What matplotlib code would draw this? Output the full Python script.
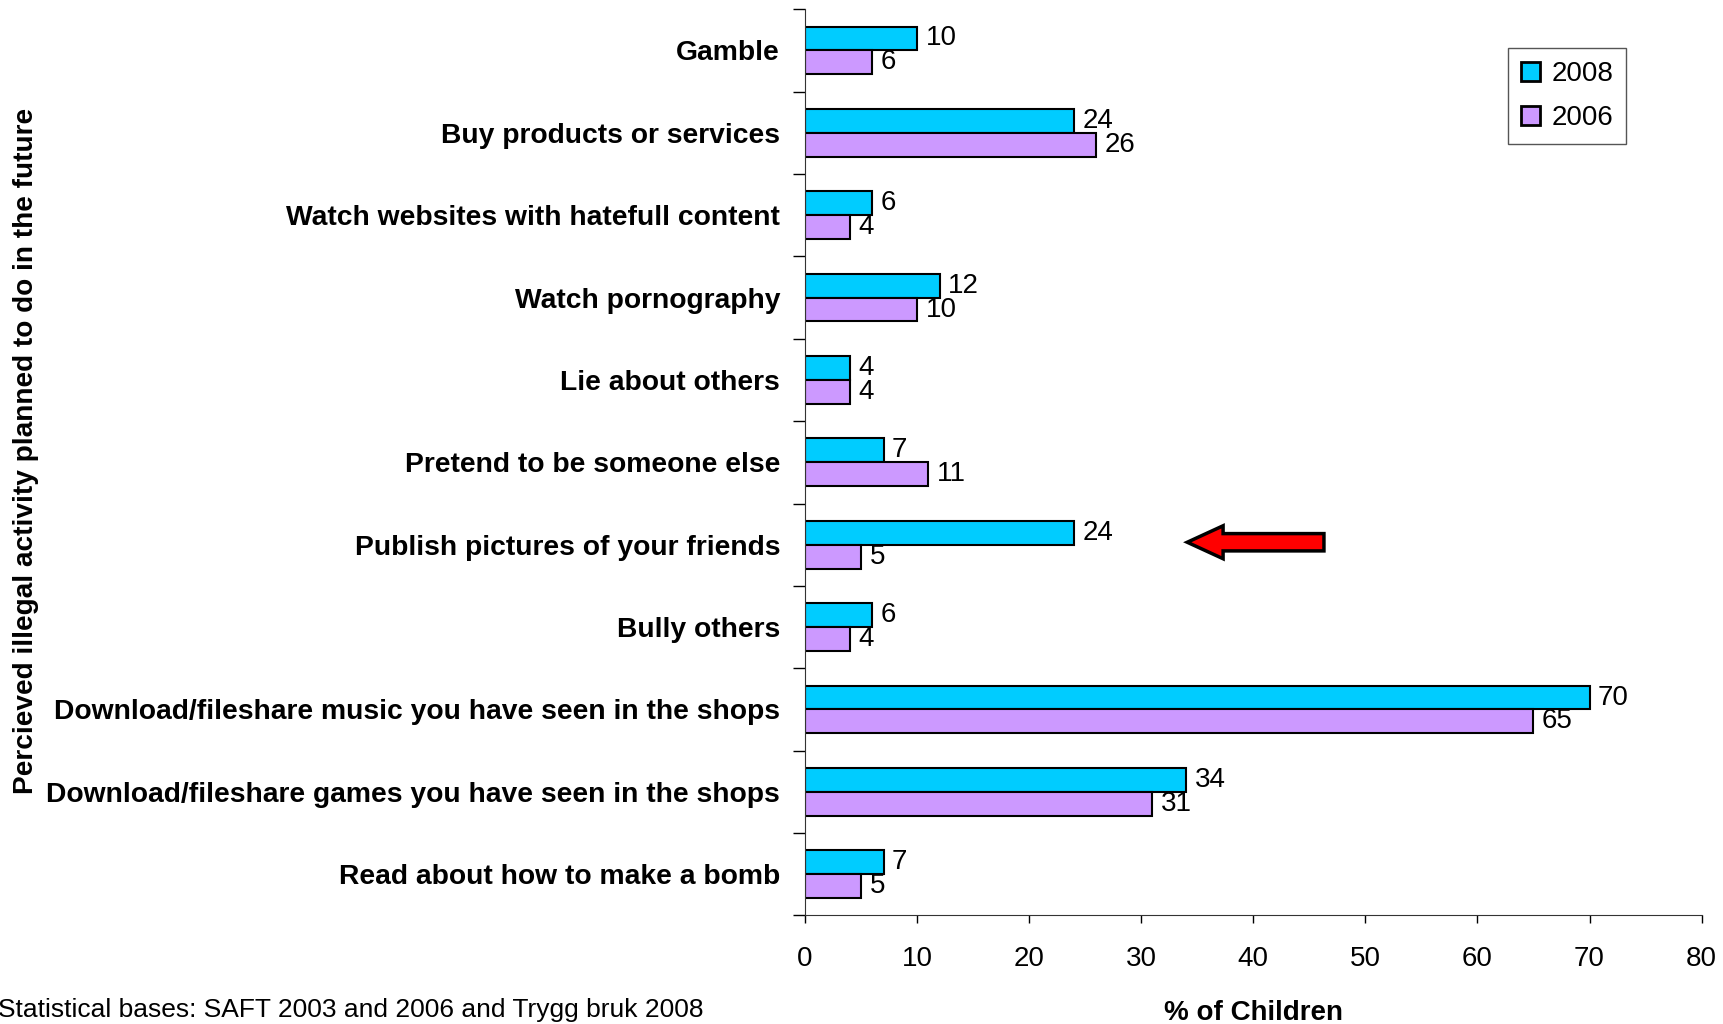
import matplotlib
matplotlib.use('Agg')
import matplotlib.pyplot as plt
import matplotlib.patches as mpatches
import numpy as np

plt.rcParams['font.family'] = ['Liberation Sans', 'DejaVu Sans']

categories = [
    'Gamble',
    'Buy products or services',
    'Watch websites with hatefull content',
    'Watch pornography',
    'Lie about others',
    'Pretend to be someone else',
    'Publish pictures of your friends',
    'Bully others',
    'Download/fileshare music you have seen in the shops',
    'Download/fileshare games you have seen in the shops',
    'Read about how to make a bomb',
]
values_2008 = [10, 24, 6, 12, 4, 7, 24, 6, 70, 34, 7]
values_2006 = [6, 26, 4, 10, 4, 11, 5, 4, 65, 31, 5]
x_ticks = [0, 10, 20, 30, 40, 50, 60, 70, 80]

col_2008 = '#00CCFF'
col_2006 = '#CC99FF'

fig = plt.figure(figsize=(17.24, 10.24), dpi=100)
ax = fig.add_axes([0.467, 0.106, 0.52, 0.885])

y = np.arange(len(categories))
h = 0.29
b1 = ax.barh(y - h / 2, values_2008, height=h, color=col_2008,
             edgecolor='black', linewidth=1.5, label='2008')
b2 = ax.barh(y + h / 2, values_2006, height=h, color=col_2006,
             edgecolor='black', linewidth=1.5, label='2006')

for bars in (b1, b2):
    for bar in bars:
        w = bar.get_width()
        ax.annotate(str(int(w)), (w, bar.get_y() + bar.get_height() / 2),
                    xytext=(6, 0), textcoords='offset points',
                    va='center', ha='left', fontsize=20)

# red arrow pointing at the "Publish pictures" row
arrow = mpatches.FancyArrow(46.3, 5.97, -12.2, 0, width=0.21,
                            head_width=0.4, head_length=3.2,
                            length_includes_head=True,
                            facecolor='#FF0000', edgecolor='black',
                            linewidth=2.5)
ax.add_patch(arrow)

ax.set_xlim(0, 80)
ax.set_ylim(10.5, -0.5)
ax.set_xticks(x_ticks)
ax.set_yticks(y)
ax.set_yticklabels(categories, fontsize=20.3, fontweight='bold')
ax.set_yticks(np.arange(-0.5, len(categories)), minor=True)
ax.tick_params(axis='y', which='major', length=0, pad=18)
ax.tick_params(axis='y', which='minor', length=9, width=1)
ax.tick_params(axis='x', length=6, width=1, pad=16, labelsize=20)

ax.spines['top'].set_visible(False)
ax.spines['right'].set_visible(False)
ax.spines['left'].set_color('#333333')
ax.spines['bottom'].set_color('#333333')

ax.set_xlabel('% of Children', fontsize=20, fontweight='bold', labelpad=20)
fig.text(0.015, 0.56, 'Percieved illegal activity planned to do in the future',
         rotation=90, fontsize=20.2, fontweight='bold', ha='center', va='center')
fig.text(-0.001, 0.002, 'Statistical bases: SAFT 2003 and 2006 and Trygg bruk 2008',
         fontsize=19, ha='left', va='bottom')

leg = ax.legend(loc='upper left', bbox_to_anchor=(0.769, 0.972), fontsize=20,
                handlelength=0.7, handleheight=0.7, handletextpad=0.4,
                fancybox=False, framealpha=1, edgecolor='#555555',
                borderpad=0.45, labelspacing=0.65)
for p in leg.get_patches():
    p.set_linewidth(2)

fig.savefig('out.png', dpi=100)
